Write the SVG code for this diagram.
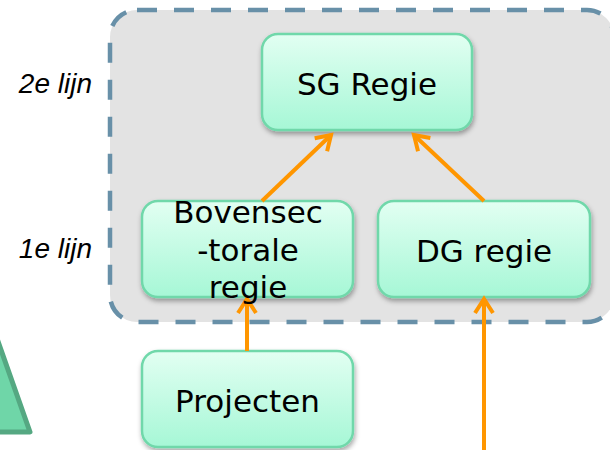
<svg xmlns="http://www.w3.org/2000/svg" width="610" height="450" viewBox="0 0 610 450">
<defs>
<linearGradient id="g" x1="0" y1="0" x2="0" y2="1">
<stop offset="0" stop-color="#e2fff2"/>
<stop offset="1" stop-color="#a6f7d6"/>
</linearGradient>
<filter id="sh" x="-10%" y="-10%" width="125%" height="130%">
<feDropShadow dx="1" dy="3" stdDeviation="2.5" flood-color="#000" flood-opacity="0.35"/>
</filter>
<marker id="ah" markerUnits="userSpaceOnUse" markerWidth="30" markerHeight="30" refX="15" refY="15" orient="auto" overflow="visible">
<path d="M1,6 L15,15 L1,24" fill="none" stroke="#ff9600" stroke-width="4" stroke-linecap="butt" stroke-linejoin="miter"/>
</marker>
</defs>
<style>
.box{fill:url(#g);stroke:#6fd8aa;stroke-width:2.5;filter:url(#sh)}
.t{font-family:"DejaVu Sans","Verdana",sans-serif;font-size:31px;fill:#000;text-anchor:middle}
.lbl{font-family:"Liberation Sans",Arial,sans-serif;font-style:italic;font-size:28px;fill:#000;text-anchor:end}
.c{fill:none;stroke:#ff9600;stroke-width:4;marker-end:url(#ah)}
</style>
<rect width="610" height="450" fill="#fff"/>
<polygon points="-6,330 30,432 -45,432" fill="#6fd6a8" stroke="#55a882" stroke-width="5" stroke-linejoin="round"/>
<rect id="container" x="110" y="10" width="504" height="312" rx="27" fill="#e3e3e3" stroke="#6890a8" stroke-width="4.5" stroke-dasharray="20 17"/>
<text class="lbl" x="92" y="93">2e lijn</text>
<text class="lbl" x="92" y="258">1e lijn</text>
<g id="sg"><rect class="box" x="262" y="34" width="210" height="96" rx="16"/><text class="t" x="367" y="95">SG Regie</text></g>
<g id="bov"><rect class="box" x="142" y="201" width="211" height="96" rx="16"/></g>
<g id="dg"><rect class="box" x="378" y="201" width="212" height="96" rx="16"/><text class="t" x="484" y="262">DG regie</text></g>
<g id="proj"><rect class="box" x="142" y="351" width="211" height="96" rx="16"/><text class="t" x="247.5" y="412">Projecten</text></g>
<g id="connectors">
<line class="c" x1="262" y1="201" x2="331" y2="135"/>
<line class="c" x1="484" y1="201" x2="414" y2="135"/>
<line class="c" x1="247" y1="351" x2="247" y2="299"/>
<line class="c" x1="484" y1="452" x2="484" y2="299"/>
</g>
<g id="bov-text"><text class="t" x="248" y="223">Bovensec</text><text class="t" x="248" y="261">-torale</text><text class="t" x="248" y="298">regie</text></g>
</svg>
